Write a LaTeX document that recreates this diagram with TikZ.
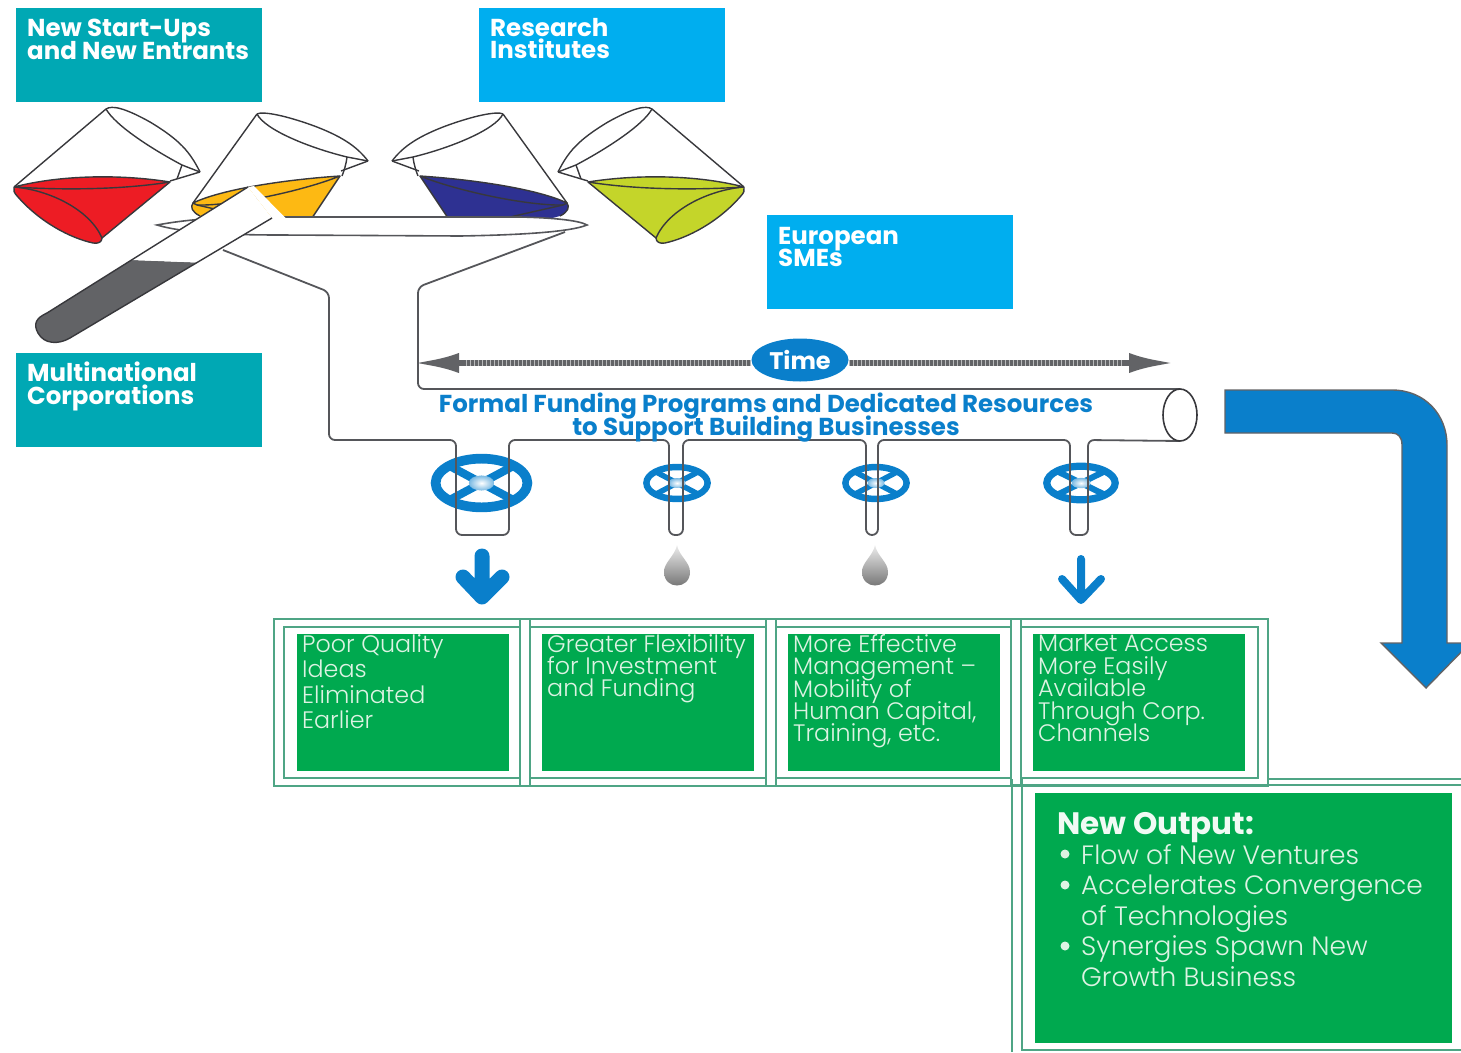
\documentclass[tikz,border=0pt]{standalone}
\usepackage{fontspec}
\setmainfont{Poppins}
\newfontfamily\lightf{Poppins Light}
\usetikzlibrary{arrows.meta,shadings,shapes.geometric}
\definecolor{tealbox}{HTML}{00A8B4}
\definecolor{skybox}{HTML}{00AEEF}
\definecolor{flowblue}{HTML}{0A7FCB}
\definecolor{cellgreen}{HTML}{00A94F}
\definecolor{framegreen}{HTML}{4FA585}
\definecolor{celltextc}{HTML}{DDF3E3}
\definecolor{pipegray}{HTML}{55565A}
\definecolor{inkline}{HTML}{38383C}
\definecolor{testgray}{HTML}{626366}
\definecolor{redliq}{HTML}{ED1C24}
\definecolor{yelliq}{HTML}{FDB913}
\definecolor{bluliq}{HTML}{2E3192}
\definecolor{limliq}{HTML}{C4D52A}
\tikzset{
  catbox/.style={inner sep=0pt,minimum width=246pt,minimum height=94pt,anchor=north west},
  cattext/.style={inner sep=0pt,anchor=north west,align=left,text=white,font=\bfseries\fontsize{24.5}{22.5}\selectfont},
  cellbox/.style={inner sep=0pt,fill=cellgreen,anchor=north west,minimum width=212pt,minimum height=137pt},
  celltext/.style={inner sep=0pt,anchor=north west,align=left,text=celltextc,font=\lightf\fontsize{23.8}{22.4}\selectfont},
  frameline/.style={draw=framegreen,line width=1.3pt},
  pipeline/.style={draw=pipegray,line width=1.8pt},
  beakerline/.style={draw=inkline,line width=1.4pt,line join=round},
  timearrow/.style={draw=testgray,line width=6pt},
  timegrain/.style={draw=testgray!45!white,line width=6pt,dash pattern=on 1pt off 3pt},
  bluetitle/.style={inner sep=0pt,align=center,text=flowblue,font=\bfseries\fontsize{24.5}{23}\selectfont},
  flowstroke/.style={draw=flowblue,line cap=round,line join=round},
}
\newcommand{\wheel}[4]{% cx cy rx ry
  \draw[flowblue,line width=#3*0.19pt] (#1,#2) ellipse ({#3*0.9} and {#4*0.84});
  \draw[flowblue,line width=#3*0.16pt] (#1-#3*0.66,#2-#4*0.62) -- (#1+#3*0.66,#2+#4*0.62);
  \draw[flowblue,line width=#3*0.16pt] (#1-#3*0.66,#2+#4*0.62) -- (#1+#3*0.66,#2-#4*0.62);
  \shade[inner color=white,outer color=flowblue!55] (#1,#2) ellipse ({#3*0.25} and {#4*0.26});
}
\newcommand{\beakerA}[1]{%
  \fill[#1] (14,187) .. controls (60,175) and (120,174) .. (170,182) -- (102,238)
     .. controls (102,242) and (98,244) .. (93,243) .. controls (70,238) and (40,222) .. (18,197)
     .. controls (14,193) and (13,190) .. (14,187) -- cycle;
  \draw[beakerline] (14,187) .. controls (60,175) and (120,174) .. (170,182)
     .. controls (120,190) and (60,190) .. (14,187);
  \draw[beakerline] (170,182) -- (102,238);
  \draw[beakerline] (14,187) .. controls (50,190) and (90,210) .. (102,238)
     .. controls (102,242) and (98,244) .. (93,243) .. controls (70,238) and (40,222) .. (18,197)
     .. controls (14,193) and (13,190) .. (14,187);
  \draw[beakerline] (14,187) -- (106,109);
  \draw[beakerline] (106,109) .. controls (112,105) and (125,108) .. (150,122)
     .. controls (180,140) and (190,152) .. (200,172);
  \draw[beakerline] (106,109) .. controls (115,125) and (150,148) .. (182,165) -- (200,172);
  \draw[beakerline] (182,165) -- (177,179);
  \draw[beakerline] (200,172) -- (170,181);
}
\newcommand{\beakerB}[1]{%
  \fill[#1] (193,203) .. controls (220,190) and (280,180) .. (340,176) -- (308,224) -- (230,224)
     -- (200,216) .. controls (192,212) and (190,207) .. (193,203) -- cycle;
  \draw[beakerline] (193,203) .. controls (220,190) and (280,180) .. (340,176)
     .. controls (300,192) and (230,206) .. (197,205) -- cycle;
  \draw[beakerline] (197,205) -- (250,217);
  \draw[beakerline] (340,176) -- (308,224);
  \draw[beakerline] (193,203) .. controls (190,207) and (192,212) .. (200,216);
  \draw[beakerline] (193,203) -- (257,114);
  \draw[beakerline] (257,114) .. controls (262,111) and (285,115) .. (317,127)
     .. controls (345,138) and (358,148) .. (368,161);
  \draw[beakerline] (257,114) .. controls (265,130) and (310,148) .. (347,157) -- (368,161);
  \draw[beakerline] (347,157) .. controls (346,165) and (344,171) .. (342,176);
  \draw[beakerline] (368,161) -- (341,171);
}
\begin{document}
\begin{tikzpicture}[x=1pt,y=-1pt]
\lineskiplimit=-100pt\relax
\useasboundingbox (0,0) rectangle (1461,1052);
\clip (0,0) rectangle (1461,1052);

% category boxes
\node[catbox,fill=tealbox] (startups) at (16,8) {};
\node[cattext] at (27,19) {New Start-Ups\\and New Entrants};
\node[catbox,fill=skybox] (research) at (478.5,8) {};
\node[cattext] at (490,18) {Research\\Institutes};
\node[catbox,fill=skybox] (smes) at (767,214.5) {};
\node[cattext] at (778,227) {European\\SMEs};
\node[catbox,fill=tealbox] (multi) at (16,352.5) {};
\node[cattext] at (27,362) {Multinational\\Corporations};

% beakers
\beakerA{redliq}
\begin{scope}[shift={(758,0)},xscale=-1]\beakerA{limliq}\end{scope}
\beakerB{yelliq}
\begin{scope}[shift={(760,0)},xscale=-1]\beakerB{bluliq}\end{scope}

% funnel top
\filldraw[fill=white,draw=pipegray,line width=1.6pt] (157,225) .. controls (200,217) and (240,217) .. (290,217)
  -- (520,217) .. controls (560,218) and (580,221) .. (587,225)
  .. controls (570,232) and (520,235) .. (460,236) -- (280,235)
  .. controls (220,235) and (180,232) .. cycle;

% test tube
\fill[white] (248,187) -- (254,186) -- (286,218.5) -- (272,218) -- cycle;
\fill[testgray] (132,260) -- (197,262.5) -- (70,338) .. controls (58,345) and (44,344) .. (38,333)
   .. controls (33,324) and (36,318) .. (47,313) -- cycle;
\fill[white] (248,187) -- (132,260) -- (197,262.5) -- (272,218) -- cycle;
\draw[beakerline] (248,187) -- (47,313) .. controls (36,318) and (33,324) .. (38,333)
   .. controls (44,344) and (58,345) .. (70,338) -- (272,218);

% pipe network
\draw[pipeline,rounded corners=6pt] (223,250) -- (329,292) -- (329,440) -- (456,440) -- (456,535) -- (509,535)
  -- (509,440) -- (669,440) -- (669,535) -- (683,535) -- (683,440) -- (866,440) -- (866,535) -- (878,535)
  -- (878,440) -- (1070,440) -- (1070,535) -- (1088,535) -- (1088,440) -- (1180,441);
\draw[pipeline,rounded corners=6pt] (565,232) -- (418,287) -- (418,389) -- (1180,389);
\filldraw[fill=white,draw=inkline,line width=1.6pt] (1180,415) ellipse (17 and 26);

% wheels
\wheel{481.5}{483}{51}{29}
\wheel{677}{483}{34}{19}
\wheel{876}{483}{34}{19}
\wheel{1081}{483}{38}{20}
% pipes seen through the wheels
\draw[pipeline] (456,455) -- (456,510) (509,455) -- (509,510) (669,460) -- (669,505) (683,460) -- (683,505)
  (866,460) -- (866,505) (878,460) -- (878,505) (1070,460) -- (1070,505) (1088,460) -- (1088,505);

% time arrow
\node[fill=flowblue,ellipse,inner sep=0pt,minimum width=97pt,minimum height=43pt,text=white,font=\bfseries\fontsize{24}{24}\selectfont] (time) at (800,360) {Time};
\coordinate (timeL) at (413,363);
\coordinate (timeR) at (1175,363);
\coordinate (grainL) at (465,363);
\coordinate (grainR) at (1122,363);
\draw[timearrow,-{Latex[length=46pt,width=20pt]}] (time.west |- timeL) -- (timeL);
\draw[timearrow,-{Latex[length=46pt,width=20pt]}] (time.east |- timeR) -- (timeR);
\draw[timegrain] (time.west |- timeL) -- (grainL);
\draw[timegrain] (time.east |- timeR) -- (grainR);

\node[bluetitle] (funding) at (766,418) {Formal Funding Programs and Dedicated Resources\\to Support Building Businesses};

% flow outcomes
\draw[flowstroke,line width=15pt] (482,556) -- (482,596) (463,577) -- (482,597) -- (502,577);
\shade[top color=gray!15,bottom color=black!58] (677,545) .. controls (679,556) and (690,562) .. (690,572)
  .. controls (690,590) and (664,590) .. (664,572) .. controls (664,562) and (675,556) .. (677,545) -- cycle;
\shade[top color=gray!15,bottom color=black!58] (875,545) .. controls (877,556) and (888,562) .. (888,572)
  .. controls (888,590) and (862,590) .. (862,572) .. controls (862,562) and (873,556) .. (875,545) -- cycle;
\draw[flowstroke,line width=8pt] (1081,559) -- (1081,600) (1062,579) -- (1081,600) -- (1101,579);

% big output arrow
\filldraw[fill=flowblue,draw=testgray,line width=1.4pt] (1225,390) -- (1392,390) .. controls (1425,390) and (1447,415) .. (1447,445)
  -- (1447,643) -- (1470,643) -- (1426,688) -- (1381,643) -- (1402,643) -- (1402,445)
  .. controls (1402,437) and (1398,433) .. (1392,433) -- (1225,433) -- cycle;

% frames
\draw[frameline] (274,619) rectangle (1268,786);
\draw[frameline] (284,627) rectangle (520,778);
\draw[frameline] (530,627) rectangle (766,778);
\draw[frameline] (776,627) rectangle (1011,778);
\draw[frameline] (1021,627) rectangle (1258,778);
\draw[frameline] (520,619) -- (520,786) (530,619) -- (530,786) (766,619) -- (766,786) (776,619) -- (776,786)
  (1011,619) -- (1011,786) (1021,619) -- (1021,786);
\draw[frameline] (1268,779) -- (1461,779) (1012,785) -- (1461,785);
\draw[frameline] (1012,779) -- (1012,1052) (1022,779) -- (1022,1050) -- (1461,1050);

% cells
\node[cellbox] (g1) at (297,634) {};
\node[cellbox] (g2) at (542,634) {};
\node[cellbox] (g3) at (787.5,634) {};
\node[cellbox] (g4) at (1033,634) {};
\node[celltext,font=\lightf\fontsize{23.8}{25.5}\selectfont] at (302,634) {Poor Quality\\Ideas\\Eliminated\\Earlier};
\node[celltext] at (547,634) {Greater Flexibility\\for Investment\\and Funding};
\node[celltext] at (793,634) {More Effective\\Management –\\Mobility of\\Human Capital,\\Training, etc.};
\node[celltext] at (1038,634) {Market Access\\More Easily\\Available\\Through Corp.\\Channels};

\node[inner sep=0pt,fill=cellgreen,anchor=north west,minimum width=417pt,minimum height=250pt] (output) at (1035,793) {};
\node[inner sep=0pt,anchor=north west,text=celltextc!40!white,font=\bfseries\fontsize{31}{30}\selectfont] at (1057,812) {New Output:};
\node[inner sep=0pt,anchor=north west,align=left,text=celltextc,font=\lightf\fontsize{26.5}{30.5}\selectfont] at (1081,844)
  {Flow of New Ventures\\Accelerates Convergence\\of Technologies\\Synergies Spawn New\\Growth Business};
\fill[celltextc] (1065,854) circle (4.5) (1065,885) circle (4.5) (1065,946) circle (4.5);
\end{tikzpicture}
\end{document}
